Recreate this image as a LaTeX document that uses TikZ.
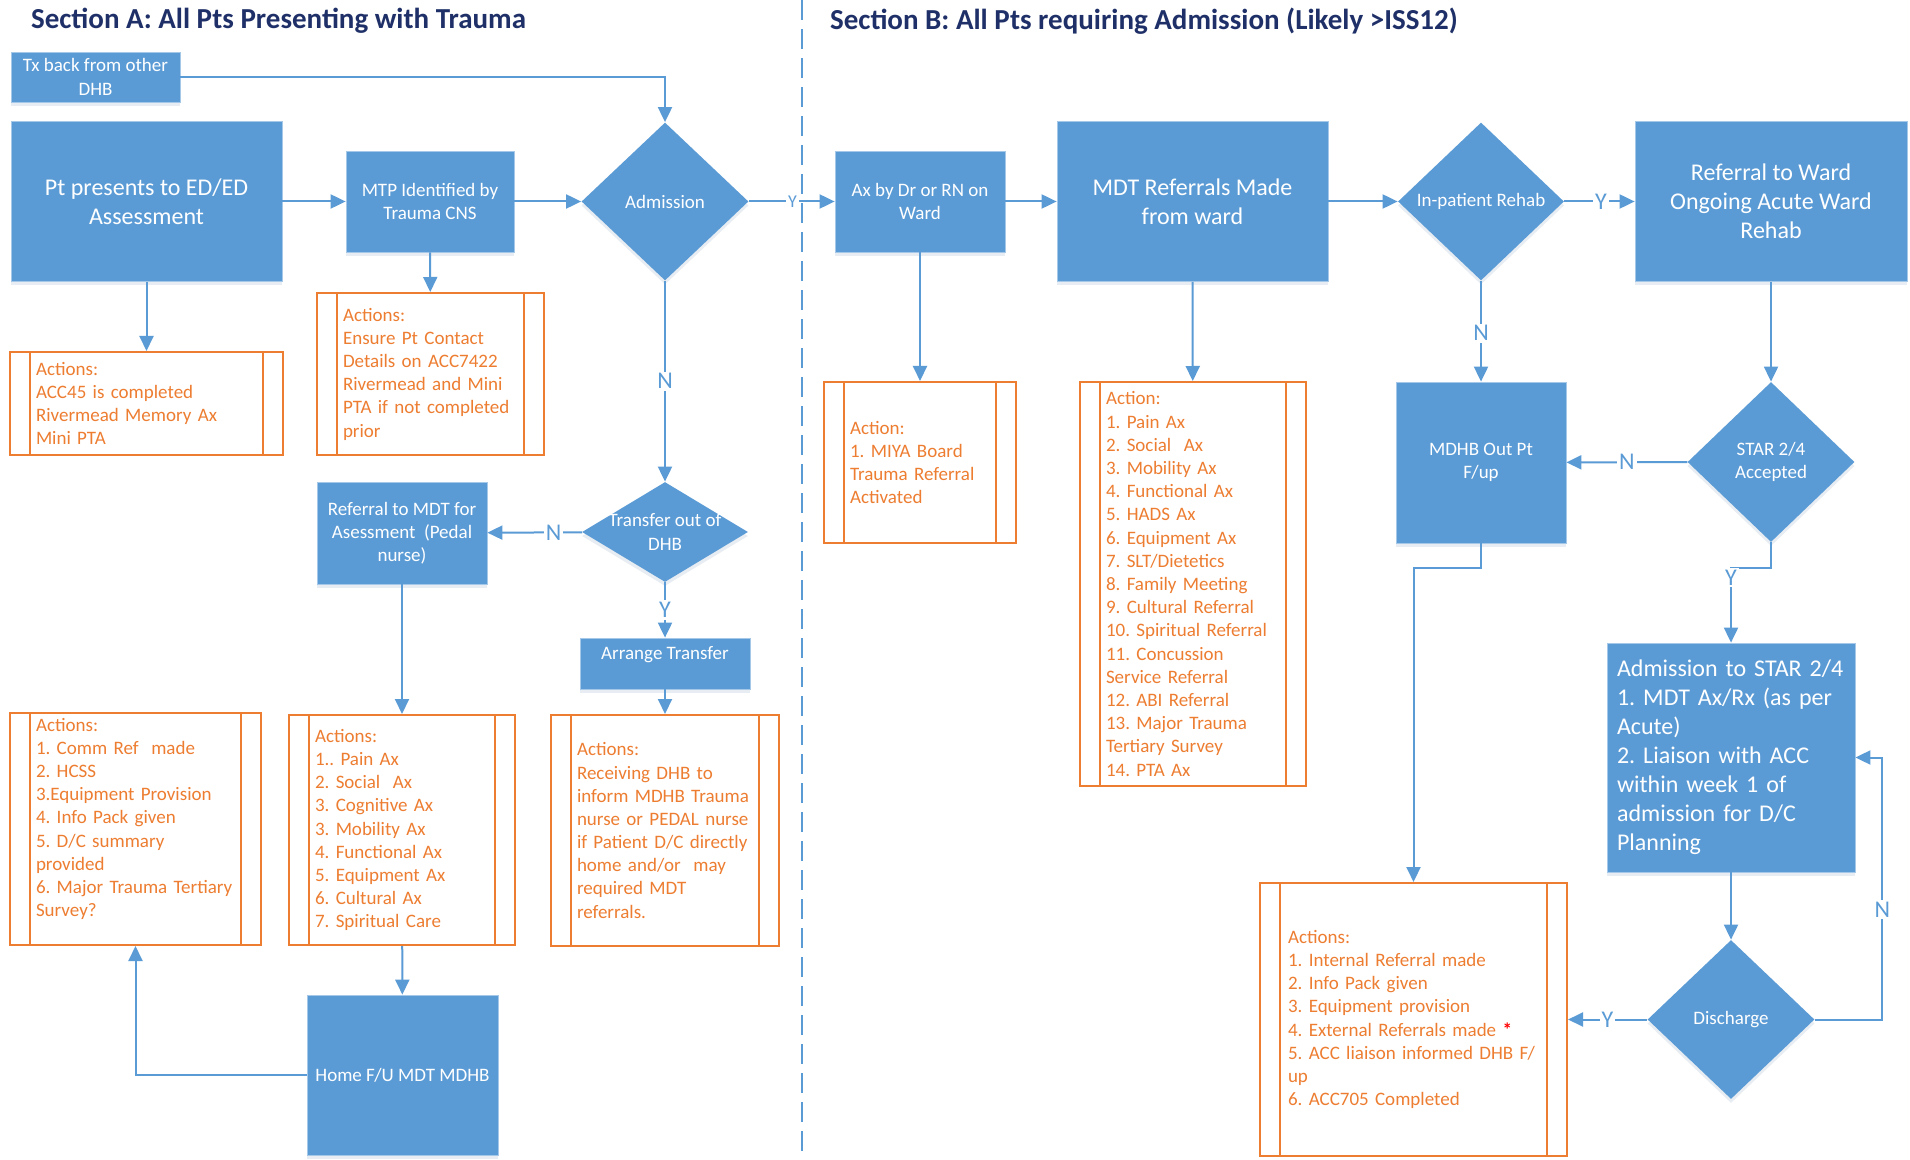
\documentclass[tikz,border=0pt]{standalone}
\usepackage{fontspec}
\setmainfont{Carlito}
\usetikzlibrary{shapes.geometric,arrows.meta,shadows}
\frenchspacing
\hyphenpenalty=10000
\exhyphenpenalty=10000

\definecolor{boxblue}{HTML}{5B9BD5}
\definecolor{actorange}{HTML}{ED7D31}
\definecolor{titlenavy}{HTML}{1F3068}

\begin{document}
\begin{tikzpicture}[x=0.5pt, y=-0.5pt, >={Triangle[length=7.5pt,width=7pt]},
  flow/.style={draw=boxblue, line width=1pt},
  proc/.style={rectangle, fill=boxblue, draw=boxblue!55!white, line width=0.4pt, text=white, align=center,
    inner sep=0pt, font=\fontsize{9.5pt}{11.6pt}\selectfont,
    drop shadow={shadow xshift=0pt, shadow yshift=-2pt, opacity=0.12, fill=boxblue!70!black}},
  bigproc/.style={proc, font=\fontsize{12pt}{14.5pt}\selectfont},
  decision/.style={diamond, fill=boxblue, inner sep=0pt,
    drop shadow={shadow xshift=0pt, shadow yshift=-2pt, opacity=0.12, fill=boxblue!70!black}},
  dtext/.style={text=white, align=center, font=\fontsize{9.5pt}{11.6pt}\selectfont},
  actbox/.style={rectangle, draw=actorange, line width=1pt, text=actorange, align=left,
    inner xsep=13pt, inner ysep=0pt, font=\fontsize{9.5pt}{11.6pt}\selectfont,
    path picture={\draw[actorange, line width=1pt]
      ([xshift=10pt]path picture bounding box.north west) -- ([xshift=10pt]path picture bounding box.south west)
      ([xshift=-10pt]path picture bounding box.north east) -- ([xshift=-10pt]path picture bounding box.south east);}},
  lbl/.style={fill=white, text=boxblue, inner sep=1pt, font=\fontsize{12pt}{12pt}\selectfont},
  sectitle/.style={anchor=west, text=titlenavy, font=\fontsize{14.5pt}{17pt}\selectfont\bfseries}]

\fill[white] (0,0) rectangle (1910,1160);
\useasboundingbox (0,0) rectangle (1910,1160);

% section A
\node[sectitle] (titleA) at (24,21) {Section A: All Pts Presenting with Trauma};
\node[proc, minimum width=84.5pt, minimum height=25pt] (tx) at (95.5,77) {Tx back from other\\DHB};
\node[bigproc, minimum width=135.5pt, minimum height=80pt] (pt) at (146.5,201.5) {Pt presents to ED/ED\\Assessment};
\node[proc, minimum width=84pt, minimum height=50.5pt] (mtp) at (430,201.5) {MTP Identified by\\Trauma CNS};
\node[decision, minimum width=83.5pt, minimum height=79pt, label={[dtext]center:Admission}] (adm) at (665,201.5) {};
\node[actbox, minimum width=136.5pt, minimum height=51.5pt, text width=110.5pt] (act1) at (146.5,403.5)
  {Actions:\\ACC45 is completed\\Rivermead Memory Ax\\Mini PTA};
\node[actbox, minimum width=113.5pt, minimum height=81pt, text width=87.5pt] (act2) at (430.5,374)
  {Actions:\\Ensure Pt Contact\\Details on ACC7422\\Rivermead and Mini\\PTA if not completed\\prior};
\node[decision, minimum width=83pt, minimum height=50pt, label={[dtext]center:Transfer out of\\DHB}] (xfer) at (665,532) {};
\node[proc, minimum width=85pt, minimum height=51pt] (refmdt) at (402,533) {Referral to MDT for\\Asessment~ (Pedal\\nurse)};
\node[proc, minimum width=85pt, minimum height=25.5pt, text depth=10.5pt] (arrange) at (665,663.5) {Arrange Transfer};
\node[actbox, minimum width=125.5pt, minimum height=116pt, text width=99.5pt] (act3) at (135.5,829)
  {Actions:\\1. Comm Ref~ made\\2. HCSS\\3.Equipment Provision\\4. Info Pack given\\5. D/C summary\\provided\\6. Major Trauma Tertiary\\Survey?\\ \mbox{}};
\node[actbox, minimum width=113pt, minimum height=115pt, text width=87pt] (act4) at (402,830)
  {Actions:\\1.. Pain Ax\\2. Social~ Ax\\3. Cognitive Ax\\3. Mobility Ax\\4. Functional Ax\\5. Equipment Ax\\6. Cultural Ax\\7. Spiritual Care};
\node[actbox, minimum width=114pt, minimum height=115.5pt, text width=88pt] (act5) at (665,830.5)
  {Actions:\\Receiving DHB to\\inform MDHB Trauma\\nurse or PEDAL nurse\\if Patient D/C directly\\home and/or~ may\\required MDT\\referrals.};
\node[proc, minimum width=95.5pt, minimum height=80pt] (home) at (402.5,1075) {Home F/U MDT MDHB};

\draw[flow,->] (tx) -| (adm);
\draw[flow,->] (pt) -- (mtp);
\draw[flow,->] (mtp) -- (adm);
\draw[flow,->] (pt) -- (act1);
\draw[flow,->] (mtp) -- (act2);
\draw[flow,->] (adm) -- node[lbl] {N} (xfer);
\draw[flow,->] (xfer) -- node[lbl, pos=0.3] {N} (refmdt);
\draw[flow,->] (xfer) -- node[lbl] {Y} (arrange);
\draw[flow,->] (refmdt) -- (act4);
\draw[flow,->] (arrange) -- (act5);
\draw[flow,->] (act4) -- (home);
\draw[flow,->] (home) -| (act3);

% divider
\draw[boxblue, line width=1pt, dash pattern=on 10pt off 4.5pt] (802,0) -- (802,1160);

% section B
\node[sectitle] (titleB) at (823,21) {Section B: All Pts requiring Admission (Likely >ISS12)};
\node[proc, minimum width=85pt, minimum height=50.5pt] (axdr) at (920,201.5) {Ax by Dr or RN on\\Ward};
\node[bigproc, minimum width=135.5pt, minimum height=80pt] (mdtref) at (1192.5,201.5) {MDT Referrals Made\\from ward};
\node[decision, minimum width=83pt, minimum height=79pt, label={[dtext]center:In-patient Rehab}] (inpat) at (1481,201.5) {};
\node[bigproc, minimum width=136pt, minimum height=80pt] (refward) at (1771,201.5) {Referral to Ward\\Ongoing Acute Ward\\Rehab};
\node[actbox, minimum width=96pt, minimum height=80.5pt, text width=70pt] (miya) at (920,462.5)
  {Action:\\1. MIYA Board\\Trauma Referral\\Activated};
\node[actbox, minimum width=113pt, minimum height=202pt, text width=87pt] (mdtlist) at (1193,584)
  {Action:\\1. Pain Ax\\2. Social~ Ax\\3. Mobility Ax\\4. Functional Ax\\5. HADS Ax\\6. Equipment Ax\\7. SLT/Dietetics\\8. Family Meeting\\9. Cultural Referral\\10. Spiritual Referral\\11. Concussion\\Service Referral\\12. ABI Referral\\13. Major Trauma\\Tertiary Survey\\14. PTA Ax};
\node[proc, minimum width=85pt, minimum height=80.5pt] (mdhbout) at (1481,462.5) {MDHB Out Pt\\F/up};
\node[decision, minimum width=83.5pt, minimum height=80pt, label={[dtext]center:STAR 2/4\\Accepted}] (star) at (1771,462) {};
\node[bigproc, minimum width=124pt, minimum height=114.5pt, text width=114pt, inner xsep=5pt, align=left] (admstar) at (1731,757.5)
  {Admission to STAR 2/4\\1. MDT Ax/Rx (as per\\Acute)\\2. Liaison with ACC\\within week 1 of\\admission for D/C\\Planning};
\node[decision, minimum width=83.5pt, minimum height=79.5pt, label={[dtext]center:Discharge}] (dis) at (1731,1019.5) {};
\node[actbox, minimum width=153.5pt, minimum height=136.5pt, text width=125.5pt, inner xsep=14pt] (actfinal) at (1413.5,1019.5)
  {Actions:\\1. Internal Referral made\\2. Info Pack given\\3. Equipment provision\\4. External Referrals made {\color{red}\textbf{*}}\\\mbox{5. ACC liaison informed DHB F/}\\up\\6. ACC705 Completed};

\draw[flow,->] (adm) -- node[lbl, font=\fontsize{9pt}{9pt}\selectfont, pos=0.51] {Y} (axdr);
\draw[flow,->] (axdr) -- (mdtref);
\draw[flow,->] (mdtref) -- (inpat);
\draw[flow,->] (inpat) -- node[lbl, pos=0.52] {Y} (refward);
\draw[flow,->] (axdr) -- (miya);
\draw[flow,->] (mdtref) -- (mdtlist);
\draw[flow,->] (inpat) -- node[lbl, pos=0.52] {N} (mdhbout);
\draw[flow,->] (refward) -- (star);
\draw[flow,->] (star) -- node[lbl] {N} (mdhbout);
\draw[flow,->] (star.south) -- ++(0,26) -| node[lbl, pos=0.56] {Y} (admstar.north);
\draw[flow,->] (mdhbout.south) -- ++(0,25) -| (actfinal.north);
\draw[flow,->] (admstar) -- (dis);
\draw[flow,->] (dis) -- node[lbl] {Y} (actfinal);
\draw[flow,->] (dis.east) -- ++(67.5,0) |- node[lbl, pos=0.21] {N} (admstar.east);
\end{tikzpicture}
\end{document}
